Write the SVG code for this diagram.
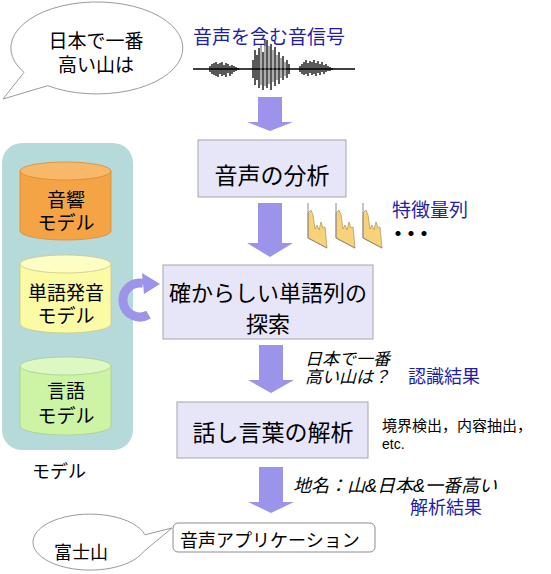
<svg xmlns="http://www.w3.org/2000/svg" width="551" height="574" viewBox="0 0 551 574">
<style>
text{font-family:"Liberation Sans","Noto Sans CJK JP",sans-serif;fill:#000}
.blue{fill:#1e1eaa}
.it{font-style:italic}
.box{fill:#e7e6f9;stroke:#a6a6a6;stroke-width:1}
.arrow{fill:#9c94ea}
.bub{fill:#fff;stroke:#9a9a9a;stroke-width:1}
.spec{fill:#f6d27a;stroke:#b8995a;stroke-width:0.8}
.axis{fill:none;stroke:#8a8a8a;stroke-width:1}
.wave{fill:none;stroke:#000;stroke-width:1.3}
</style>
<defs>
<g id="specShape">
<path class="spec" d="M0,10 L3,7 L5,12 L7,26 L9,22 L11,27 L13,19 L15,25 L17,24 L19,45 L0,35 Z"/>
<path class="axis" d="M0,0 V35 L19,45"/>
</g>
</defs>

<g id="bubble-top">
<path class="bub" d="M24,72.4 L3,99 L47.7,85.7 A86 46 0 1 0 24,72.4 Z"/>
<text x="96" y="48" font-size="19" text-anchor="middle">日本で一番</text>
<text x="96" y="72" font-size="19" text-anchor="middle">高い山は</text>
</g>

<g id="signal">
<text class="blue" x="193" y="44" font-size="19">音声を含む音信号</text>
<path class="wave" d="M193,69 H355"/>
<path class="wave" d="M210,66V72M212,64V74M214,63V75M216,62V76M218,64V77M220,63V74M222,62V76M224,65V75M226,63V77M228,64V73M230,66V76M232,65V74M234,66V72M236,67V71M238,68V70"/>
<path class="wave" d="M253,60V78M255,50V85M257,55V80M259,48V88M263,52V90M267,40V88M271,44V90M275,47V86M279,52V84M283,56V80M287,60V78M289,64V74"/>
<path fill="none" stroke="#777" stroke-width="1.2" d="M261,45V85M265,42V86M269,46V84M273,50V82M277,55V80M281,58V78M285,62V76"/>
<path class="wave" d="M300,66V72M302,64V74M304,62V75M306,60V74M308,63V76M310,61V73M312,62V75M314,60V74M316,63V76M318,61V73M320,64V75M322,62V72M324,65V74M326,64V72M328,66V71M330,67V71M332,68V70"/>
</g>

<g id="models">
<rect x="2" y="143" width="131" height="307" rx="20" fill="#b6dada"/>
<g id="acoustic-model">
<path d="M20,171 V231 A45.5 9 0 0 0 111,231 V171 Z" fill="#f5a445" stroke="#d58a35" stroke-width="0.8"/>
<ellipse cx="65.5" cy="171" rx="45.5" ry="9" fill="#f7b86a" stroke="#d58a35" stroke-width="0.8"/>
<text x="66" y="207" font-size="19" text-anchor="middle">音響</text>
<text x="66" y="230" font-size="19" text-anchor="middle">モデル</text>
</g>
<g id="pron-model">
<path d="M20,264 V324 A45.5 9 0 0 0 111,324 V264 Z" fill="#fbfba6" stroke="#c9c98e" stroke-width="0.8"/>
<ellipse cx="65.5" cy="264" rx="45.5" ry="9" fill="#fdfdc4" stroke="#c9c98e" stroke-width="0.8"/>
<text x="66" y="300" font-size="19" text-anchor="middle">単語発音</text>
<text x="66" y="323" font-size="19" text-anchor="middle">モデル</text>
</g>
<g id="lang-model">
<path d="M20,366 V426 A45.5 9 0 0 0 111,426 V366 Z" fill="#cdf4a4" stroke="#a6cf8e" stroke-width="0.8"/>
<ellipse cx="65.5" cy="366" rx="45.5" ry="9" fill="#ddf8c2" stroke="#a6cf8e" stroke-width="0.8"/>
<text x="66" y="398" font-size="19" text-anchor="middle">言語</text>
<text x="66" y="423" font-size="19" text-anchor="middle">モデル</text>
</g>
<text x="32" y="478" font-size="18">モデル</text>
</g>

<g id="analysis">
<rect class="box" x="198" y="140" width="148" height="57"/>
<text x="272" y="184" font-size="23" text-anchor="middle">音声の分析</text>
</g>

<g id="features">
<use href="#specShape" x="308" y="203"/>
<use href="#specShape" x="336" y="203"/>
<use href="#specShape" x="363" y="203"/>
<text class="blue" x="392" y="217" font-size="19">特徴量列</text>
<text x="388" y="241" font-size="20" font-weight="bold" letter-spacing="-7">・・・</text>
</g>

<g id="search">
<rect class="box" x="163" y="265" width="210" height="74"/>
<text x="268" y="301" font-size="22" text-anchor="middle">確からしい単語列の</text>
<text x="268" y="332" font-size="22" text-anchor="middle">探索</text>
</g>

<g id="recog-result">
<text class="it" x="305" y="365" font-size="17">日本で一番</text>
<text class="it" x="305" y="383" font-size="17">高い山は？</text>
<text class="blue" x="408" y="383" font-size="18">認識結果</text>
</g>

<g id="parse">
<rect class="box" x="177" y="402" width="191" height="56"/>
<text x="273" y="441" font-size="23" text-anchor="middle">話し言葉の解析</text>
<text x="382" y="431" font-size="15">境界検出，内容抽出，</text>
<text x="382" y="449" font-size="14">etc.</text>
</g>

<g id="parse-result">
<text class="it" x="293" y="492" font-size="18">地名：山&amp;日本&amp;一番高い</text>
<text class="blue" x="410" y="514" font-size="18">解析結果</text>
</g>

<g id="application">
<rect x="173" y="523" width="202" height="29" rx="5" fill="#fff" stroke="#8c8c8c" stroke-width="1"/>
<text x="180" y="547" font-size="18">音声アプリケーション</text>
</g>

<g id="bubble-bottom">
<path class="bub" d="M145,534.8 L172,528 L143.6,551.6 A57 28 0 1 1 145,534.8 Z"/>
<text x="81" y="559" font-size="18" text-anchor="middle">富士山</text>
</g>

<g id="connectors">
<polygon class="arrow" points="258,97 282,97 282,122 293,122 270,131 247,122 258,122"/>
<polygon class="arrow" points="258,203 282,203 282,243 293,243 270,257 247,243 258,243"/>
<polygon class="arrow" points="259,345 283,345 283,380 294,380 271,393 248,380 259,380"/>
<polygon class="arrow" points="259,467 283,467 283,502 294,502 271,513 248,502 259,502"/>
<path d="M148.5,314.7 A17 17 0 1 1 143,283.3" fill="none" stroke="#9c94ea" stroke-width="9"/>
<polygon class="arrow" points="142,273 144,294 160,284"/>
</g>
</svg>
